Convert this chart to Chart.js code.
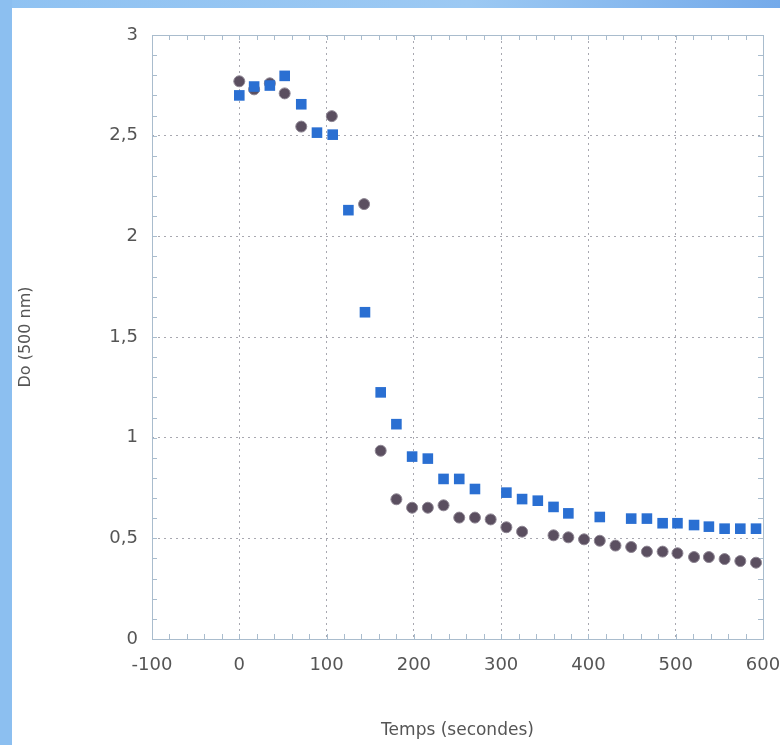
<!DOCTYPE html>
<html>
<head>
<meta charset="utf-8">
<script src="https://cdn.jsdelivr.net/npm/chart.js@4"></script>
<style>
  body { margin: 0; background: #fff; }
  #wrap { position: relative; width: 780px; height: 745px; background: #fff; }
  #topband { position: absolute; left: 0; top: 0; width: 780px; height: 8px;
    background: linear-gradient(to right, #8fc2f2, #9cc9f3 60%, #74aaea); }
  #leftband { position: absolute; left: 0; top: 0; width: 12px; height: 745px; background: #8cbff0; }
</style>
</head>
<body>
<div id="wrap">
  <canvas id="chart" width="780" height="745"></canvas>
  <div id="topband"></div>
  <div id="leftband"></div>
</div>
<script>
// times (s) and optical density at 500 nm
var timeCircles = [0, 17, 35, 52, 71, 106, 143, 162, 180, 198, 216, 234, 252, 270, 288, 306, 324, 360, 377, 395, 413, 431, 449, 467, 485, 502, 521, 538, 556, 574, 592];
var doCircles = [2.77, 2.73, 2.76, 2.71, 2.545, 2.597, 2.16, 0.935, 0.694, 0.652, 0.652, 0.664, 0.603, 0.603, 0.594, 0.555, 0.533, 0.515, 0.505, 0.495, 0.488, 0.464, 0.457, 0.434, 0.434, 0.426, 0.407, 0.407, 0.397, 0.387, 0.379];

var timeSquares = [0, 17, 35, 52, 71, 89, 107, 125, 144, 162, 180, 198, 216, 234, 252, 270, 306, 324, 342, 360, 377, 413, 449, 467, 485, 502, 521, 538, 556, 574, 592];
var doSquares = [2.70, 2.744, 2.749, 2.797, 2.656, 2.515, 2.505, 2.13, 1.623, 1.225, 1.067, 0.906, 0.896, 0.795, 0.795, 0.745, 0.727, 0.695, 0.687, 0.656, 0.624, 0.606, 0.598, 0.598, 0.575, 0.575, 0.566, 0.558, 0.548, 0.548, 0.548];

var xTicks = [-100, 0, 100, 200, 300, 400, 500, 600];
var yTicks = [0, 0.5, 1, 1.5, 2, 2.5, 3];

function toPoints(xs, ys) {
  return xs.map(function (x, i) { return { x: x, y: ys[i] }; });
}

var frameColor = "#a9bccd";

// box round the plot and small inward ticks, as on the scan
var frameTicks = {
  id: "frameTicks",
  beforeDatasetsDraw: function (chart) {
    var ctx = chart.ctx, a = chart.chartArea;
    var xs = chart.scales.x, ys = chart.scales.y;
    ctx.save();
    ctx.strokeStyle = frameColor;
    ctx.lineWidth = 1;
    ctx.strokeRect(a.left + 0.5, a.top + 0.5, a.right - a.left, a.bottom - a.top);
    ctx.beginPath();
    for (var v = -80; v < 600; v += 20) {
      var px = Math.round(xs.getPixelForValue(v)) + 0.5;
      ctx.moveTo(px, a.bottom); ctx.lineTo(px, a.bottom - 5);
      ctx.moveTo(px, a.top); ctx.lineTo(px, a.top + 5);
    }
    for (var k = 1; k < 30; k++) {
      var py = Math.round(ys.getPixelForValue(k / 10)) + 0.5;
      ctx.moveTo(a.left, py); ctx.lineTo(a.left + 5, py);
      ctx.moveTo(a.right, py); ctx.lineTo(a.right - 5, py);
    }
    ctx.stroke();
    ctx.restore();
  }
};

new Chart(document.getElementById("chart"), {
  type: "scatter",
  data: {
    datasets: [
      {
        label: "carres",
        data: toPoints(timeSquares, doSquares),
        pointStyle: "rect",
        pointRadius: 7.5,
        backgroundColor: "#2a6fd2",
        borderColor: "#2a6fd2",
        borderWidth: 0
      },
      {
        label: "ronds",
        data: toPoints(timeCircles, doCircles),
        pointStyle: "circle",
        pointRadius: 5.5,
        backgroundColor: "#5b4f60",
        borderColor: "#8d8592",
        borderWidth: 1
      }
    ]
  },
  options: {
    responsive: false,
    animation: false,
    layout: { padding: { top: 35, right: 0, left: 0, bottom: 0 } },
    plugins: { legend: { display: false }, tooltip: { enabled: false } },
    scales: {
      x: {
        type: "linear",
        min: -100,
        max: 600,
        afterBuildTicks: function (s) { s.ticks = xTicks.map(function (v) { return { value: v }; }); },
        afterFit: function (s) { s.height = 106; s.paddingLeft = 0; s.paddingRight = 17; },
        grid: { color: "#a8a8b0", drawTicks: false },
        border: { display: false, dash: [2, 4] },
        ticks: {
          padding: 16,
          color: "#555",
          font: { family: "DejaVu Sans", size: 18 },
          maxRotation: 0
        },
        title: {
          display: true,
          text: "Temps (secondes)",
          color: "#555",
          font: { family: "DejaVu Sans", size: 17 },
          padding: { top: 4, bottom: 4 }
        }
      },
      y: {
        min: 0,
        max: 3,
        afterBuildTicks: function (s) { s.ticks = yTicks.map(function (v) { return { value: v }; }); },
        afterFit: function (s) { s.width = 152; },
        grid: { color: "#a8a8b0", drawTicks: false },
        border: { display: false, dash: [2, 4] },
        ticks: {
          padding: 14,
          color: "#555",
          font: { family: "DejaVu Sans", size: 18 },
          callback: function (v) { return String(v).replace(".", ","); }
        },
        title: {
          display: true,
          text: "Do (500 nm)",
          color: "#555",
          font: { family: "DejaVu Sans", size: 16 },
          padding: { top: 16, bottom: 16 }
        }
      }
    }
  },
  plugins: [frameTicks]
});
</script>
</body>
</html>
